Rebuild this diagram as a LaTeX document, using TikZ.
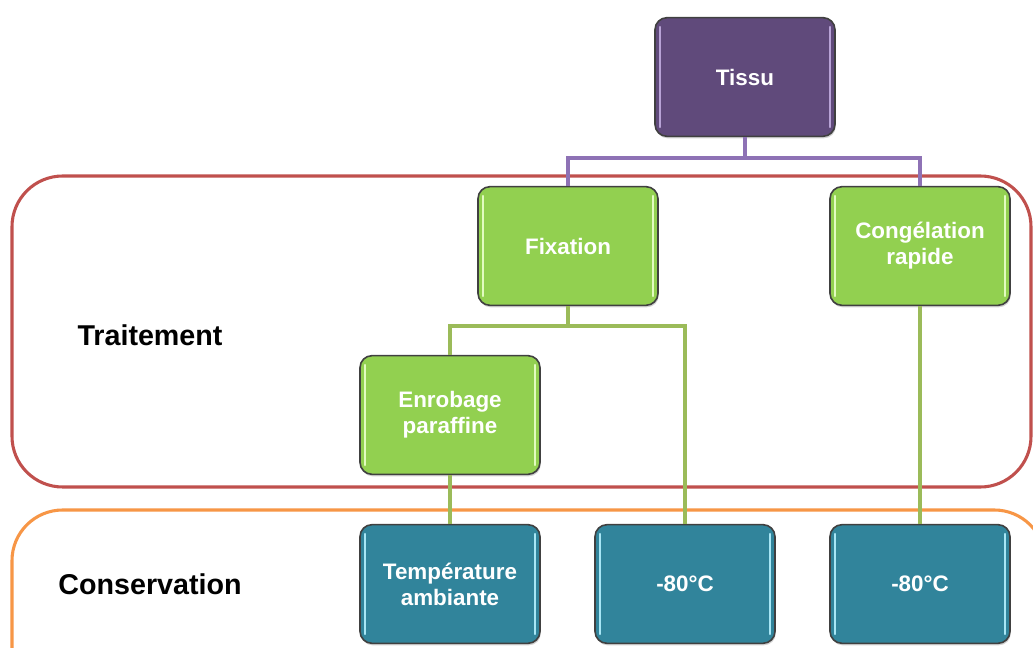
\documentclass[tikz,border=0pt]{standalone}
\usepackage{fontspec}
\setmainfont{Liberation Sans}
\usetikzlibrary{shadows,calc}
\definecolor{tpurple}{HTML}{604A7B}
\definecolor{tpurplehl}{HTML}{B8A3D6}
\definecolor{tgreen}{HTML}{92D050}
\definecolor{tgreenhl}{HTML}{E2FBC0}
\definecolor{tteal}{HTML}{31849B}
\definecolor{ttealhl}{HTML}{A8E6F5}
\definecolor{tborder}{HTML}{404040}
\definecolor{lpurple}{HTML}{8E72B5}
\definecolor{lgreen}{HTML}{9BBB59}
\definecolor{fred}{HTML}{C0504D}
\definecolor{forange}{HTML}{F79646}
\tikzset{
  box/.style={draw=tborder, line width=1.2pt, rounded corners=9pt,
    minimum width=135pt, minimum height=89pt, align=center,
    text=white, font=\fontsize{16.8}{19.5}\selectfont\bfseries,
    drop shadow={shadow xshift=0.6pt, shadow yshift=-1.5pt, opacity=0.35}},
  hl/.style={path picture={
    \draw[#1, line width=1.6pt, line cap=round]
      ([xshift=4pt,yshift=-7pt]path picture bounding box.north west) --
      ([xshift=4pt,yshift=7pt]path picture bounding box.south west);
    \draw[#1, line width=1.6pt, line cap=round]
      ([xshift=-4pt,yshift=-7pt]path picture bounding box.north east) --
      ([xshift=-4pt,yshift=7pt]path picture bounding box.south east);}},
  pbox/.style={box, fill=tpurple, hl=tpurplehl},
  gbox/.style={box, fill=tgreen, hl=tgreenhl},
  tbox/.style={box, fill=tteal, hl=ttealhl},
  frame/.style={line width=2.3pt, rounded corners=38pt},
  plink/.style={draw=lpurple, line width=2.4pt},
  glink/.style={draw=lgreen, line width=2.4pt},
  group/.style={font=\fontsize{21.5}{24}\selectfont\bfseries, text=black}
}
\begin{document}
\begin{tikzpicture}[x=0.75pt,y=-0.75pt]
\useasboundingbox (0,0) rectangle (1033,648);
\clip (0,0) rectangle (1033,648);
\fill[white] (0,0) rectangle (1033,648);
% group frames
\draw[frame, draw=fred] (12,176) rectangle (1031,487);
\draw[frame, draw=forange] (12,510) rectangle (1045,700);
\node[group] (trait) at (150,335) {Traitement};
\node[group] (cons) at (150,584) {Conservation};
% junction coordinates
\coordinate (j1) at (745,158);
\coordinate (j2) at (569,326);
% boxes
\node[pbox] (tissu) at (745,77) {Tissu};
\node[gbox] (fix) at (568,246) {Fixation};
\node[gbox] (cong) at (920,246) {Congélation\\rapide};
\node[gbox] (enr) at (450,415) {Enrobage\\paraffine};
\node[tbox] (temp) at (450,584) {Température\\ambiante};
\node[tbox] (m80a) at (685,584) {-80°C};
\node[tbox] (m80b) at (920,584) {-80°C};
% connectors
\path[plink] (tissu.south) -- (tissu.south |- j1) -| (fix.north);
\path[plink] (tissu.south |- j1) -| (cong.north);
\path[glink] (fix.south) -- (fix.south |- j2) -| (enr.north);
\path[glink] (fix.south |- j2) -| (m80a.north);
\path[glink] (enr.south) -- (temp.north);
\path[glink] (cong.south) -- (m80b.north);
\end{tikzpicture}
\end{document}
